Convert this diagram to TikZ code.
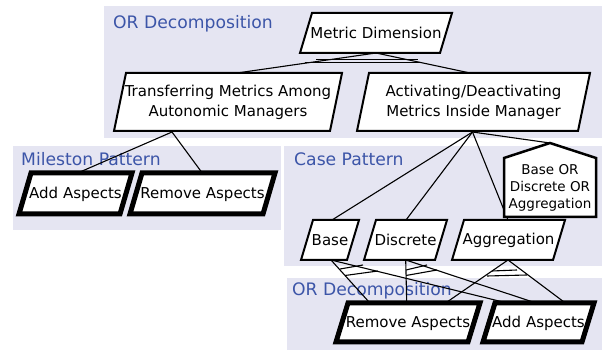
\documentclass[tikz,border=0pt]{standalone}
\usepackage{fontspec}
\setmainfont{DejaVu Sans}
\usetikzlibrary{calc}
\pgfdeclarelayer{panels}
\pgfdeclarelayer{links}
\pgfdeclarelayer{boxes}
\pgfsetlayers{panels,links,boxes,main}
\definecolor{panelc}{HTML}{E5E5F2}
\definecolor{titlec}{HTML}{3C55A8}
\tikzset{
  boxtext/.style={inner sep=0pt, outer sep=0pt, align=center, anchor=center, font=\fontsize{15}{20}\selectfont},
  thinbox/.style={draw=black, fill=white, line width=2pt, line join=miter},
  heavybox/.style={draw=black, fill=white, line width=5pt, line join=miter},
  panel/.style={fill=panelc, draw=none},
  paneltitle/.style={text=titlec, anchor=base west, inner sep=0pt, font=\fontsize{17.2}{20}\selectfont},
  link/.style={draw=black, line width=1.1pt},
  arcline/.style={draw=black, line width=1.1pt},
}
% style, name, cx, cy, half-width, half-height, text y offset, text
\newcommand{\parabox}[8]{%
  \node[boxtext] (#2) at (#3,#4+#7) {#8};
  \begin{pgfonlayer}{boxes}
    \draw[#1] (#3-#5+12,#4-#6) -- (#3+#5,#4-#6)
      -- (#3+#5-12,#4+#6) -- (#3-#5,#4+#6) -- cycle;
  \end{pgfonlayer}}
\begin{document}
\begin{tikzpicture}[x=1pt,y=-1pt]
\useasboundingbox (0,0) rectangle (605,352);
\begin{pgfonlayer}{panels}
  \fill[white] (0,0) rectangle (605,352);
  \path[panel] (104,6) rectangle (602,138);
  \path[panel] (13,146) rectangle (281,230);
  \path[panel] (284,146) rectangle (602,266);
  \path[panel] (287,278) rectangle (602,350);
  \node[paneltitle] (t1) at (113,28.5) {OR Decomposition};
  \node[paneltitle] (t2) at (21,165.5) {Mileston Pattern};
  \node[paneltitle] (t3) at (294,165.5) {Case Pattern};
  \node[paneltitle] (t4) at (292,296) {OR Decomposition};
\end{pgfonlayer}

\parabox{thinbox}{metric}{376}{33}{76}{20}{0}{Metric Dimension}
\parabox{thinbox}{transfer}{228}{102}{114}{29}{0.5}{Transferring Metrics Among\\Autonomic Managers}
\parabox{thinbox}{activate}{473.5}{102}{116.5}{29}{0.5}{Activating/Deactivating\\Metrics Inside Manager}
\parabox{heavybox}{madd}{75.5}{193.5}{56.5}{20.5}{1}{Add Aspects}
\parabox{heavybox}{mrem}{202.5}{193.5}{72.5}{20.5}{1}{Remove Aspects}
\parabox{thinbox}{base}{330}{240}{29}{20}{0}{Base}
\parabox{thinbox}{discrete}{405.5}{240}{41.5}{20}{0}{Discrete}
\parabox{thinbox}{aggr}{508.5}{240}{56.5}{20}{0}{Aggregation}
\parabox{heavybox}{rrem}{408}{322.5}{72}{19.5}{1}{Remove Aspects}
\parabox{heavybox}{radd}{538.5}{322.5}{55.5}{19.5}{1}{Add Aspects}

% guard pentagon
\node[inner sep=0pt, align=center, font=\fontsize{13.5}{17}\selectfont] (guard) at (550,187.5) {Base OR\\Discrete OR\\Aggregation};
\coordinate (apex) at (550,143);
\coordinate (gSW) at (504,217); \coordinate (gNW) at (504,158);
\coordinate (gSE) at (596,217); \coordinate (gNE) at (596,158);
\begin{pgfonlayer}{boxes}
  \draw[draw=black, fill=white, line width=2.5pt] (gSW) -- (gNW) -- (apex) -- (gNE) -- (gSE) -- cycle;
\end{pgfonlayer}

\coordinate (mS) at (376,53);
\coordinate (tN) at (237,73);
\coordinate (aN) at (470,73);
\coordinate (tS) at (172,132);
\coordinate (aS) at (472.5,132);
\coordinate (maN) at (80,172);
\coordinate (mrN) at (201.5,172);
\coordinate (bN) at (332,220);
\coordinate (dN) at (406,220);
\coordinate (agN) at (508,220);
\coordinate (bS) at (331,260);
\coordinate (dS) at (405.7,260);
\coordinate (agS) at (508,260);
\coordinate (rr1) at (369,302);
\coordinate (rr2) at (406.7,302);
\coordinate (rr3) at (447,302);
\coordinate (ra1) at (503,302);
\coordinate (ra2) at (533,302);
\coordinate (ra3) at (564,302);

\begin{pgfonlayer}{links}
  \draw[link] (mS) -- (tN);
  \draw[link] (mS) -- (aN);
  \draw[link] (tS) -- (maN);
  \draw[link] (tS) -- (mrN);
  \draw[link] (aS) -- (bN);
  \draw[link] (aS) -- (dN);
  \draw[link] (aS) -- (agN);
  \draw[link] (aS) -- (apex);
  \draw[link] (bS) -- (rr1);
  \draw[link] (bS) -- (ra1);
  \draw[link] (dS) -- (rr2);
  \draw[link] (dS) -- (ra2);
  \draw[link] (agS) -- (rr3);
  \draw[link] (agS) -- (ra3);
  % OR-decomposition arcs
  \coordinate (a1) at (316,59.7); \coordinate (a2) at (418,59.7);
  \coordinate (a3) at (305,62.7); \coordinate (a4) at (420,62.7);
  \draw[arcline] (a1) -- (a2);
  \draw[arcline] (a3) -- (a4);
  \coordinate (b1) at (340,269); \coordinate (b2) at (363,265);
  \coordinate (b3) at (345,275.5); \coordinate (b4) at (378,271);
  \draw[arcline] (b1) -- (b2);
  \draw[arcline] (b3) -- (b4);
  \coordinate (c1) at (406,270); \coordinate (c2) at (427,265);
  \coordinate (c3) at (406,275.5); \coordinate (c4) at (437,270);
  \draw[arcline] (c1) -- (c2);
  \draw[arcline] (c3) -- (c4);
  \coordinate (d1) at (492,271); \coordinate (d2) at (517,270);
  \coordinate (d3) at (487,276); \coordinate (d4) at (527,275);
  \draw[arcline] (d1) -- (d2);
  \draw[arcline] (d3) -- (d4);
\end{pgfonlayer}
\end{tikzpicture}
\end{document}
